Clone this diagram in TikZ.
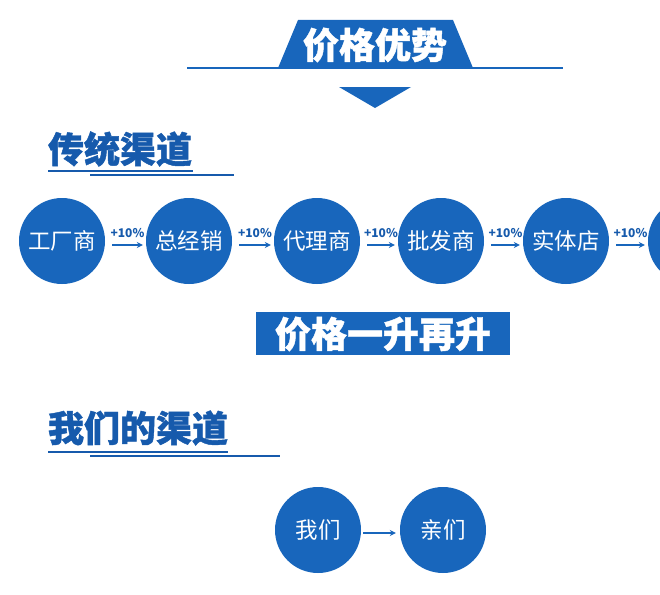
\documentclass[tikz,border=0pt]{standalone}
\usepackage{fontspec}
\newfontfamily\cjk{Noto Sans CJK SC}
\newfontfamily\cjkheavy[BoldFeatures={FakeBold=1.2}]{Noto Sans CJK SC}
\usetikzlibrary{arrows.meta,calc}
\definecolor{mblue}{RGB}{24,102,188}
\definecolor{hblue}{RGB}{22,90,172}
\begin{document}
\begin{tikzpicture}[x=1pt,y=-1pt,
  circ/.style={circle,fill=mblue,minimum size=86pt,inner sep=0pt,text=white,font=\cjk\fontsize{22.5}{22.5}\selectfont},
  arr/.style={draw=mblue,line width=1.2pt,-{Stealth[length=6pt,width=6pt]}},
  pct/.style={text=hblue,font=\cjk\bfseries\fontsize{12}{12}\selectfont,inner sep=0pt},
  big/.style={font=\cjkheavy\bfseries\fontsize{36}{36}\selectfont,inner sep=0pt},
  uline/.style={draw=hblue,line width=1.6pt}
]
\path[use as bounding box,fill=white] (0,0) rectangle (660,594);
% title
\fill[mblue] (278,68) -- (298,20) -- (453,20) -- (473,68) -- cycle;
\draw[mblue,line width=2pt] (187,68) -- (563,68);
\node[big,text=white] (title) at (375,45) {价格优势};
\fill[mblue] (339,87) -- (411,87) -- (375,108) -- cycle;
% heading 1
\node[big,text=hblue] (h1) at (120,149) {传统渠道};
\draw[uline] (48,171) -- (193,171);
\draw[uline] (90,175) -- (234,175);
% circles
\node[circ] (c1) at (62,241) {工厂商};
\node[circ] (c2) at (189,241) {总经销};
\node[circ] (c3) at (317,241) {代理商};
\node[circ] (c4) at (441,241) {批发商};
\node[circ] (c5) at (566,241) {实体店};
\node[circ] (c6) at (691,241) {};
\foreach \a/\b in {c1/c2,c2/c3,c3/c4,c4/c5,c5/c6}{
  \draw[arr] ($(\a.east)+(7,4)$) -- ($(\b.west)+(-3,4)$)
    node[pct,midway,above=7pt] {+10\%};
}
% banner
\fill[mblue] (256,312) rectangle (510,355);
\node[big,text=white] (banner) at (383,334) {价格一升再升};
% heading 2
\node[big,text=hblue] (h2) at (138,428) {我们的渠道};
\draw[uline] (48,452) -- (228,452);
\draw[uline] (90,456) -- (280,456);
% bottom
\node[circ] (w1) at (318,530) {我们};
\node[circ] (w2) at (443,530) {亲们};
\draw[arr] ($(w1.east)+(2,3)$) -- ($(w2.west)+(-4,3)$);
\end{tikzpicture}
\end{document}
